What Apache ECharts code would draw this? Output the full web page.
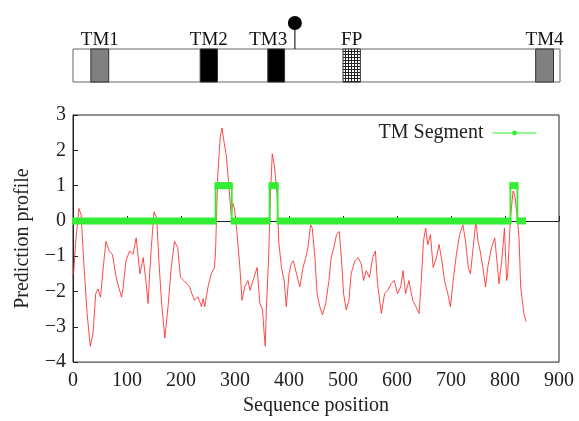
<!DOCTYPE html>
<html>
<head>
<meta charset="utf-8">
<script src="https://cdn.jsdelivr.net/npm/echarts@6/dist/echarts.min.js"></script>
<style>html,body{margin:0;padding:0;background:#fff;}#chart{width:579px;height:421px;}</style>
</head>
<body>
<div id="chart"></div>
<script>
// ---- data ----
const positions = [1,5,11,15,20,26,32,37,42,46,51,56,61,67,73,80,85,90,93,98,105,111,117,124,130,135,139,142,145,150,155,159,164,170,176,182,188,194,199,
206,212,216,221,225,231,235,238,241,244,250,256,262,264,266,268,271,273,276,280,284,287,289,293,296,299,304,309,313,318,324,328,335,341,346,351,354,356,358,362,366,369,373,378,381,386,391,395,400,404,
408,414,420,426,431,435,440,443,448,452,457,462,468,474,478,483,488,493,497,501,506,511,515,522,528,534,538,543,549,555,560,564,571,577,583,589,595,601,607,
611,616,622,629,635,641,645,649,653,657,662,667,673,678,683,688,694,699,704,710,716,722,727,732,736,741,746,750,754,759,764,768,775,781,785,789,794,799,803,805,810,815,818,823,826,829,835,839];
const profile = [-1.5,-0.6,0.35,0.18,-1.2,-2.6,-3.55,-3.2,-2.07,-1.93,-2.16,-1.32,-0.58,-0.85,-0.95,-1.6,-1.9,-2.16,-1.87,-1.13,-0.85,-0.95,-0.48,-1.5,-1.04,-1.7,-2.34,-1.5,-0.76,0.26,0.08,-1.13,-2.3,-3.32,-2.43,-1.32,-0.58,-0.76,-1.6,
-1.7,-1.8,-1.87,-2.1,-2.25,-2.15,-2.3,-2.43,-2.2,-2.43,-1.87,-1.5,-1.32,-0.85,0.2,1.28,2.0,2.4,2.63,2.21,1.84,1.3,0.91,0.17,0.5,0.35,-0.39,-1.32,-2.25,-1.87,-1.69,-1.97,-1.6,-1.32,-2.34,-2.52,-3.2,-3.55,-2.52,-1.13,0.82,1.9,1.56,0.73,-0.58,-1.32,-1.69,-2.43,-1.5,-1.22,
-1.13,-1.5,-1.87,-1.32,-1.04,-0.76,-0.11,-0.2,-1.04,-2.06,-2.43,-2.66,-2.34,-1.69,-1.04,-0.76,-0.39,-0.3,-1.04,-2.06,-2.52,-2.25,-1.5,-1.13,-1.04,-1.22,-1.69,-1.41,-1.6,-1.04,-0.85,-1.78,-2.62,-2.06,-1.97,-1.78,-1.69,-2.06,-1.87,
-1.41,-2.06,-1.69,-2.25,-2.43,-2.62,-1.69,-0.58,-0.2,-0.67,-0.39,-1.32,-1.04,-0.67,-1.13,-1.69,-2.06,-2.43,-1.69,-0.95,-0.39,-0.11,-0.58,-1.32,-1.5,-0.76,0,-0.58,-0.85,-1.32,-1.87,-1.32,-0.76,-0.48,-1.13,-1.78,-1.13,-0.2,-1.69,-1.5,0.07,0.85,0.73,0.07,-0.48,-1.87,-2.62,-2.85];

const tmPositions = [0,264,264,294,294,364,364,379,379,810,810,823,823,837];
const tmValues    = [0,0,1,1,0,0,1,1,0,0,1,1,0,0];

const xTicks = [0,100,200,300,400,500,600,700,800,900];
const yTicks = [-4,-3,-2,-1,0,1,2,3];

// schematic of the protein
const domainNames = ['TM1','TM2','TM3','FP','TM4'];
const domainStart = [33,235,360,499,855];
const domainEnd   = [66,267,391,531,888];
const domainKind  = ['gray','black','black','hatch','gray'];
const sitePositions = [410];
// ---------------------------------------

const FONT = '"Liberation Serif", "DejaVu Serif", serif';
const GREEN = '#33ee33';

// hatch pattern for FP
const pat = document.createElement('canvas');
pat.width = 3; pat.height = 3;
const pc = pat.getContext('2d');
pc.fillStyle = '#fff'; pc.fillRect(0,0,3,3);
pc.fillStyle = '#222'; pc.fillRect(0,0,3,1); pc.fillRect(0,0,1,3);

const chart = echarts.init(document.getElementById('chart'), null, {renderer: 'canvas'});
const minus = v => String(v).replace('-', '\u2212');

const profileData = positions.map((p, i) => [p, profile[i]]);
const tmData = tmPositions.map((p, i) => [p, tmValues[i]]);
// horizontal runs of the TM segment line (drawn as a thick band of dense points)
const tmRuns = [];
for (let i = 0; i + 1 < tmPositions.length; i++) {
  if (tmValues[i] === tmValues[i + 1]) tmRuns.push([tmPositions[i], tmPositions[i + 1], tmValues[i]]);
}
const domainData = domainNames.map((n, i) => [domainStart[i], domainEnd[i], i]);

chart.setOption({
  animation: false,
  backgroundColor: '#fff',
  grid: [
    {left: 73, width: 486, top: 115, height: 251, show: true, borderColor: '#222', borderWidth: 1},
    {left: 73, width: 487, top: 49, height: 33, show: true, borderColor: '#666', borderWidth: 1}
  ],
  legend: {
    data: [{name: 'TM Segment'}],
    right: 37, top: 118, align: 'right',
    itemWidth: 44, itemHeight: 6, itemGap: 10,
    lineStyle: {width: 1},
    textStyle: {fontFamily: FONT, fontSize: 20, color: '#222', padding: [0, 4, 0, 0]}
  },
  xAxis: [
    {
      type: 'value', gridIndex: 0, min: 0, max: 900, interval: 100,
      axisLine: {lineStyle: {color: '#222', width: 1}},
      axisTick: {inside: true, length: 5, lineStyle: {color: '#222'}},
      splitLine: {show: false},
      axisLabel: {fontFamily: FONT, fontSize: 20, color: '#222', margin: 9,
        formatter: v => xTicks.includes(v) ? String(v) : ''},
      name: 'Sequence position', nameLocation: 'middle', nameGap: 33,
      nameTextStyle: {fontFamily: FONT, fontSize: 20, color: '#222'}
    },
    {
      type: 'value', gridIndex: 1, min: 0, max: 900, show: false
    }
  ],
  yAxis: [
    {
      type: 'value', gridIndex: 0, min: -4, max: 3, interval: 1,
      axisLine: {lineStyle: {color: '#222', width: 1}},
      axisTick: {inside: true, length: 5, lineStyle: {color: '#222'}},
      splitLine: {show: false},
      axisLabel: {fontFamily: FONT, fontSize: 20, color: '#222', margin: 7,
        formatter: v => yTicks.includes(v) ? minus(v) : ''},
      name: 'Prediction profile', nameLocation: 'middle', nameGap: 40, nameRotate: 90,
      nameTextStyle: {fontFamily: FONT, fontSize: 20, color: '#222'}
    },
    {type: 'value', gridIndex: 1, min: 0, max: 1, show: false}
  ],
  series: [
    {
      name: 'profile', type: 'line', xAxisIndex: 0, yAxisIndex: 0,
      data: profileData, symbol: 'none', z: 2,
      lineStyle: {color: '#ff2a2a', width: 1, opacity: 0.85}
    },
    {
      name: 'TM Segment', type: 'line', xAxisIndex: 0, yAxisIndex: 0,
      data: tmData, symbol: 'circle', symbolSize: 3, showSymbol: false, z: 3,
      itemStyle: {color: GREEN},
      lineStyle: {color: GREEN, width: 1.8, cap: 'butt', join: 'miter'}
    },
    {
      name: 'tmBand', type: 'custom', xAxisIndex: 0, yAxisIndex: 0,
      data: tmRuns, encode: {x: [0, 1], y: 2}, z: 3,
      renderItem: function (params, api) {
        const a = api.coord([api.value(0), api.value(2)]);
        const b = api.coord([api.value(1), api.value(2)]);
        return {type: 'rect', shape: {x: a[0] - 1, y: a[1] - 3.5, width: b[0] - a[0] + 2, height: 7},
          style: {fill: GREEN}};
      }
    },
    {
      name: 'domains', type: 'custom', xAxisIndex: 1, yAxisIndex: 1,
      data: domainData, encode: {x: [0, 1]},
      renderItem: function (params, api) {
        const i = api.value(2);
        const p0 = api.coord([api.value(0), 1]);
        const p1 = api.coord([api.value(1), 0]);
        const kind = domainKind[i];
        const fill = kind === 'black' ? '#000' : kind === 'gray' ? '#808080' : {image: pat, repeat: 'repeat'};
        const cx = (p0[0] + p1[0]) / 2 + (domainNames[i] === 'TM3' ? -8 : 0);
        return {
          type: 'group',
          children: [
            {type: 'rect', shape: {x: p0[0], y: p0[1], width: p1[0] - p0[0], height: p1[1] - p0[1]},
              style: {fill: fill, stroke: '#333', lineWidth: 1}},
            {type: 'text', style: {text: domainNames[i], x: cx, y: p0[1] + 1, align: 'center', verticalAlign: 'bottom',
              font: '19px ' + FONT, fill: '#111'}}
          ]
        };
      }
    },
    {
      name: 'sites', type: 'custom', xAxisIndex: 1, yAxisIndex: 1,
      data: sitePositions.map(p => [p]), encode: {x: 0},
      renderItem: function (params, api) {
        const p = api.coord([api.value(0), 1]);
        return {
          type: 'group',
          children: [
            {type: 'line', shape: {x1: p[0], y1: p[1], x2: p[0], y2: p[1] - 20}, style: {stroke: '#222', lineWidth: 1.2}},
            {type: 'circle', shape: {cx: p[0], cy: p[1] - 26, r: 7}, style: {fill: '#000'}}
          ]
        };
      }
    }
  ]
});
</script>
</body>
</html>
